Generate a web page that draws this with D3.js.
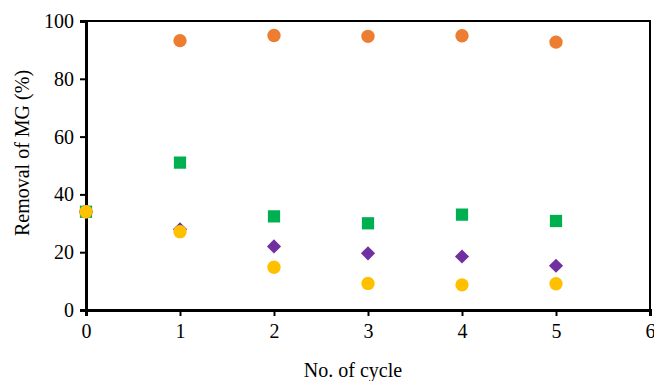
<!DOCTYPE html>
<html>
<head>
<meta charset="utf-8">
<script src="https://cdn.jsdelivr.net/npm/d3@7"></script>
<style>
  body { margin: 0; background: #fff; }
  svg text { font-family: "Liberation Serif", "Times New Roman", serif; }
</style>
</head>
<body>
<div id="chart"></div>
<script>
// cycle numbers
const cycles = [0, 1, 2, 3, 4, 5];
// removal of MG (%) per series
const orangeVals = [34, 93.2, 95.0, 94.7, 94.9, 92.7];
const greenVals = [34, 51.0, 32.4, 30.0, 33.0, 30.8];
const purpleVals = [34, 27.9, 22.0, 19.6, 18.5, 15.3];
const yellowVals = [34, 27.1, 14.8, 9.2, 8.7, 9.1];
const xTicks = [0, 1, 2, 3, 4, 5, 6];
const yTicks = [0, 20, 40, 60, 80, 100];

const width = 654, height = 381;
const margin = { left: 86, right: 4, top: 21, bottom: 71 };
const serif = '"Liberation Serif", "Times New Roman", serif';
const fs = 20;

const svg = d3.select('#chart')
    .append('svg')
    .attr('width', width)
    .attr('height', height);

const xScale = d3.scaleLinear()
    .domain([0, 6])
    .range([margin.left, width - margin.right]);

const yScale = d3.scaleLinear()
    .domain([0, 100])
    .range([height - margin.bottom, margin.top]);

/* box around plot */
svg.append('rect')
    .attr('x', xScale(0))
    .attr('y', yScale(100))
    .attr('width', xScale(6) - xScale(0))
    .attr('height', yScale(0) - yScale(100))
    .attr('fill', 'none')
    .attr('stroke', '#000')
    .attr('stroke-width', 2);

/* y axis */
const yAxis = svg.append('g')
    .attr('transform', `translate(${xScale(0)},0)`)
    .call(d3.axisLeft(yScale).tickValues(yTicks).tickFormat(d3.format('d')).tickSize(6).tickPadding(6));
yAxis.attr('font-family', serif).attr('font-size', fs);
yAxis.select('.domain').attr('stroke-width', 3);
yAxis.selectAll('.tick line').attr('stroke-width', 2);
yAxis.selectAll('text').attr('fill', '#000');

/* x axis */
const xAxis = svg.append('g')
    .attr('transform', `translate(0,${yScale(0)})`)
    .call(d3.axisBottom(xScale).tickValues(xTicks).tickFormat(d3.format('d')).tickSize(6).tickPadding(8));
xAxis.attr('font-family', serif).attr('font-size', fs);
xAxis.select('.domain').attr('stroke-width', 3);
xAxis.selectAll('.tick line').attr('stroke-width', 2);
xAxis.selectAll('text').attr('fill', '#000');

/* labels */
svg.append('text')
    .text('No. of cycle')
    .attr('x', 353)
    .attr('y', 377)
    .attr('text-anchor', 'middle')
    .attr('font-size', fs)
    .attr('fill', '#000');

svg.append('text')
    .text('Removal of MG (%)')
    .attr('transform', 'translate(29,153) rotate(-90)')
    .attr('text-anchor', 'middle')
    .attr('font-size', fs)
    .attr('fill', '#000');

/* diamond as square turned 45 degrees */
const squareDiamond = {
    draw(context, size) {
        const r = Math.sqrt(size / 2);
        context.moveTo(0, -r);
        context.lineTo(r, 0);
        context.lineTo(0, r);
        context.lineTo(-r, 0);
        context.closePath();
    }
};

/* series */
const series = [
    { vals: orangeVals, color: '#ED7D31', shape: d3.symbolCircle, size: 140 },
    { vals: greenVals, color: '#00B050', shape: d3.symbolSquare, size: 150 },
    { vals: purpleVals, color: '#7030A0', shape: squareDiamond, size: 100 },
    { vals: yellowVals, color: '#FFC000', shape: d3.symbolCircle, size: 140 }
];

series.forEach(s => {
    const sym = d3.symbol().type(s.shape).size(s.size);
    svg.append('g')
        .selectAll('path')
        .data(cycles)
        .join('path')
        .attr('d', sym)
        .attr('transform', (d, i) => `translate(${xScale(d)},${yScale(s.vals[i])})`)
        .attr('fill', s.color);
});
</script>
</body>
</html>
